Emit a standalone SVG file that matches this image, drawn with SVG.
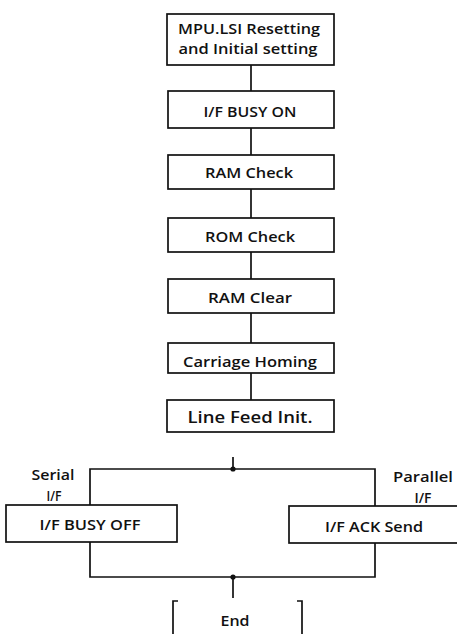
<svg xmlns="http://www.w3.org/2000/svg" width="457" height="634" viewBox="0 0 457 634">
<style>
.box{fill:#fff;stroke:#111;stroke-width:1.7}
.ln{fill:none;stroke:#111;stroke-width:1.7}
text{font-family:"Open Sans","Liberation Sans",sans-serif;font-weight:600;font-size:15px;fill:#111;text-anchor:middle}
.big{font-size:17px}
.two{font-size:13.5px}
</style>
<rect width="457" height="634" fill="#fff"/>
<g id="connectors">
<line class="ln" x1="251" y1="65" x2="251" y2="91"/>
<line class="ln" x1="251" y1="128" x2="251" y2="155"/>
<line class="ln" x1="251" y1="189" x2="251" y2="218"/>
<line class="ln" x1="251" y1="252" x2="251" y2="279"/>
<line class="ln" x1="251" y1="313" x2="251" y2="343"/>
<line class="ln" x1="251" y1="373" x2="251" y2="400"/>
<line class="ln" x1="233" y1="457" x2="233" y2="469"/>
<path class="ln" d="M90,505 V469 H375 V506"/>
<path class="ln" d="M90,542 V577 H375 V543"/>
<line class="ln" x1="233" y1="577" x2="233" y2="598"/>
<circle cx="233" cy="469" r="2.6" fill="#111"/>
<circle cx="233" cy="577" r="2.6" fill="#111"/>
</g>
<g id="n1"><rect class="box" x="167" y="14" width="167" height="51"/>
<text class="two" x="249" y="34" textLength="142" lengthAdjust="spacingAndGlyphs">MPU.LSI Resetting</text>
<text class="two" x="248" y="53.5" textLength="139" lengthAdjust="spacingAndGlyphs">and Initial setting</text></g>
<g id="n2"><rect class="box" x="168" y="91" width="166" height="37"/>
<text x="250" y="117" textLength="93" lengthAdjust="spacingAndGlyphs">I/F BUSY ON</text></g>
<g id="n3"><rect class="box" x="168" y="155" width="166" height="34"/>
<text x="249" y="178" textLength="88" lengthAdjust="spacingAndGlyphs">RAM Check</text></g>
<g id="n4"><rect class="box" x="168" y="218" width="166" height="34"/>
<text x="250" y="242" textLength="90" lengthAdjust="spacingAndGlyphs">ROM Check</text></g>
<g id="n5"><rect class="box" x="168" y="279" width="166" height="34"/>
<text x="250" y="303" textLength="84" lengthAdjust="spacingAndGlyphs">RAM Clear</text></g>
<g id="n6"><rect class="box" x="168" y="343" width="166" height="30"/>
<text x="250" y="367" textLength="134" lengthAdjust="spacingAndGlyphs">Carriage Homing</text></g>
<g id="n7"><rect class="box" x="167" y="400" width="167" height="32"/>
<text class="big" x="250" y="423" textLength="125" lengthAdjust="spacingAndGlyphs">Line Feed Init.</text></g>
<g id="n8"><rect class="box" x="6" y="505" width="171" height="37"/>
<text x="90" y="530" textLength="101" lengthAdjust="spacingAndGlyphs">I/F BUSY OFF</text></g>
<g id="n9"><rect class="box" x="289" y="506" width="172" height="37"/>
<text x="374" y="532" textLength="98" lengthAdjust="spacingAndGlyphs">I/F ACK Send</text></g>
<g id="labels">
<text x="53" y="480" textLength="43" lengthAdjust="spacingAndGlyphs">Serial</text>
<text x="54" y="501" textLength="15" lengthAdjust="spacingAndGlyphs">I/F</text>
<text x="423" y="482" textLength="60" lengthAdjust="spacingAndGlyphs">Parallel</text>
<text x="423" y="503" textLength="17" lengthAdjust="spacingAndGlyphs">I/F</text>
</g>
<g id="n10">
<path class="ln" d="M178,601 H173 V634"/>
<path class="ln" d="M297,601 H302 V634"/>
<text x="235" y="626" textLength="29" lengthAdjust="spacingAndGlyphs">End</text>
</g>
</svg>
